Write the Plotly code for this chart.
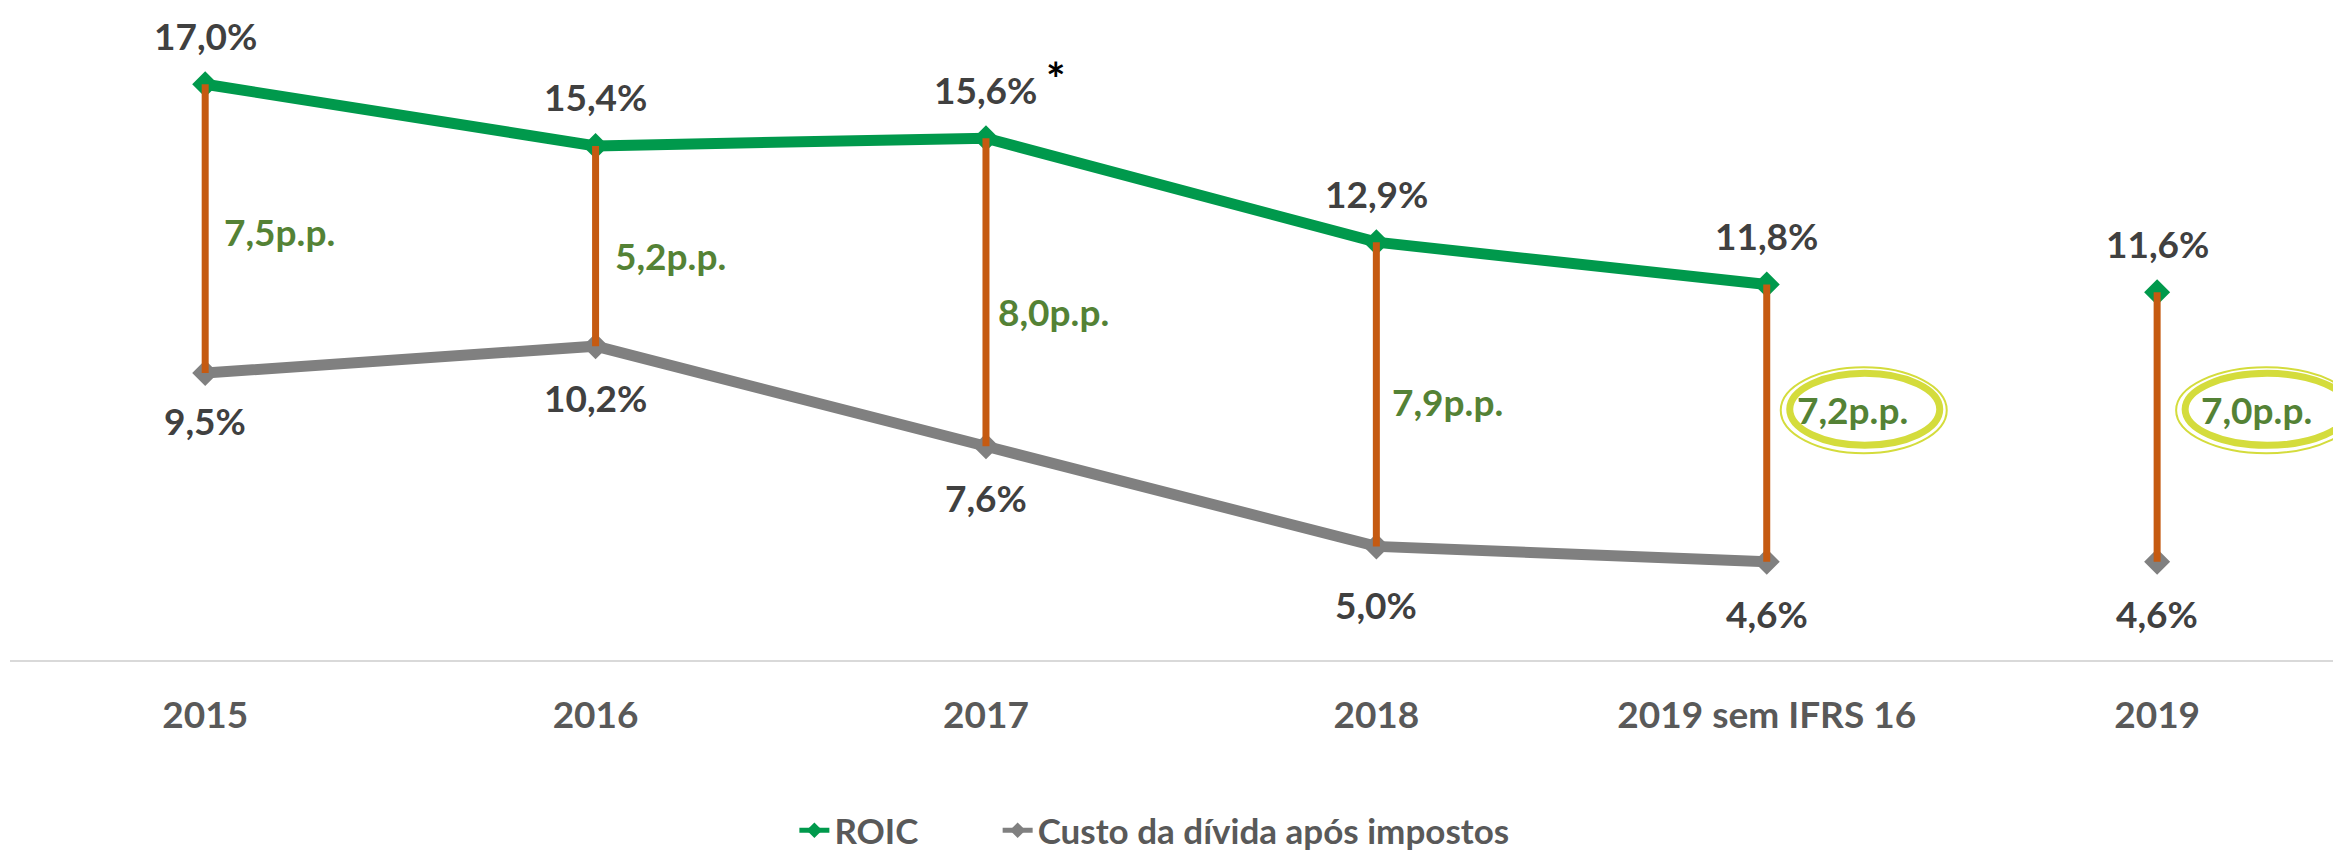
import plotly.graph_objects as go

categories = ["2015", "2016", "2017", "2018", "2019 sem IFRS 16", "2019"]
roic = [17.0, 15.4, 15.6, 12.9, 11.8, 11.6]
custo = [9.5, 10.2, 7.6, 5.0, 4.6, 4.6]
spread_labels = ["7,5p.p.", "5,2p.p.", "8,0p.p.", "7,9p.p.", "7,2p.p.", "7,0p.p."]

# layout-only helpers (positions of the spread labels)
spread_y = [13.17, 12.56, 11.11, 8.76, 8.56, 8.56]
spread_xshift = [17, 17, 10, 14, 28, 42]
custo_yshift = [-47, -51, -51, -58, -52, -52]

GREEN = "#00994C"
GRAY = "#808080"
ORANGE = "#C55A11"
LABEL = "#404040"
AXIS_TXT = "#595959"
PP_GREEN = "#548235"
RING = "#D4DC3C"
FONT = "Lato"

xs = list(range(len(categories)))

def fmt(v):
    return f"{v:.1f}".replace(".", ",") + "%"

fig = go.Figure()

fig.add_trace(go.Scatter(
    x=xs[:5], y=roic[:5], mode="lines+markers", name="ROIC", legend="legend",
    line=dict(color=GREEN, width=11),
    marker=dict(symbol="diamond", size=20, color=GREEN),
    hoverinfo="skip"))
fig.add_trace(go.Scatter(
    x=xs[5:], y=roic[5:], mode="markers", showlegend=False,
    marker=dict(symbol="diamond", size=20, color=GREEN),
    hoverinfo="skip"))
fig.add_trace(go.Scatter(
    x=xs[:5], y=custo[:5], mode="lines+markers", name="Custo da dívida após impostos",
    legend="legend2",
    line=dict(color=GRAY, width=11),
    marker=dict(symbol="diamond", size=20, color=GRAY),
    hoverinfo="skip"))
fig.add_trace(go.Scatter(
    x=xs[5:], y=custo[5:], mode="markers", showlegend=False,
    marker=dict(symbol="diamond", size=20, color=GRAY),
    hoverinfo="skip"))

vx, vy = [], []
for i in xs:
    vx += [i, i, None]
    vy += [custo[i], roic[i], None]
fig.add_trace(go.Scatter(
    x=vx, y=vy, mode="lines", showlegend=False,
    line=dict(color=ORANGE, width=7), hoverinfo="skip"))

annotations = []
for i in xs:
    annotations.append(dict(
        x=i, y=roic[i], text=fmt(roic[i]), showarrow=False, yshift=49,
        font=dict(family=FONT, size=37, color=LABEL, weight="bold")))
    annotations.append(dict(
        x=i, y=custo[i], text=fmt(custo[i]), showarrow=False, yshift=custo_yshift[i],
        font=dict(family=FONT, size=37, color=LABEL, weight="bold")))
    annotations.append(dict(
        x=i, y=spread_y[i], text=spread_labels[i], showarrow=False,
        xanchor="left", xshift=spread_xshift[i],
        font=dict(family=FONT, size=37, color=PP_GREEN, weight="bold")))

annotations.append(dict(
    x=2, y=roic[2], text="*", showarrow=False, xshift=70, yshift=60,
    font=dict(family=FONT, size=46, color="#000000", weight="bold")))

shapes = []
ring_specs = [(4, 23, 173), (5, 28, 192)]
for idx, a, b in ring_specs:
    shapes.append(dict(
        type="circle", xref="x", yref="y", xsizemode="pixel", ysizemode="pixel",
        xanchor=idx, yanchor=spread_y[idx], x0=a, x1=b, y0=-36, y1=36,
        line=dict(color=RING, width=7)))
    shapes.append(dict(
        type="circle", xref="x", yref="y", xsizemode="pixel", ysizemode="pixel",
        xanchor=idx, yanchor=spread_y[idx], x0=a - 9, x1=b + 7, y0=-44, y1=42,
        line=dict(color=RING, width=2)))

legend_font = dict(family=FONT, size=35, color=AXIS_TXT, weight="bold")

fig.update_layout(
    width=2333, height=852,
    margin=dict(l=2, r=0, t=37, b=189),
    paper_bgcolor="white", plot_bgcolor="white",
    showlegend=True,
    legend=dict(orientation="h", x=0.3365, xanchor="left", y=-0.278, yanchor="middle",
                font=legend_font, itemsizing="constant", bgcolor="rgba(0,0,0,0)"),
    legend2=dict(orientation="h", x=0.4237, xanchor="left", y=-0.278, yanchor="middle",
                 font=legend_font, itemsizing="constant", bgcolor="rgba(0,0,0,0)"),
    xaxis=dict(range=[-0.5, 5.471], tickmode="array", tickvals=xs, ticktext=categories,
               showgrid=False, zeroline=False, showline=True, linecolor="#D9D9D9",
               linewidth=2, ticks="", ticklabelstandoff=22,
               tickfont=dict(family=FONT, size=37, color=AXIS_TXT, weight="bold"),
               fixedrange=True),
    yaxis=dict(range=[2.05, 18.02], visible=False, fixedrange=True),
    annotations=annotations,
    shapes=shapes,
    hovermode=False,
)

fig.write_html("out.html")
